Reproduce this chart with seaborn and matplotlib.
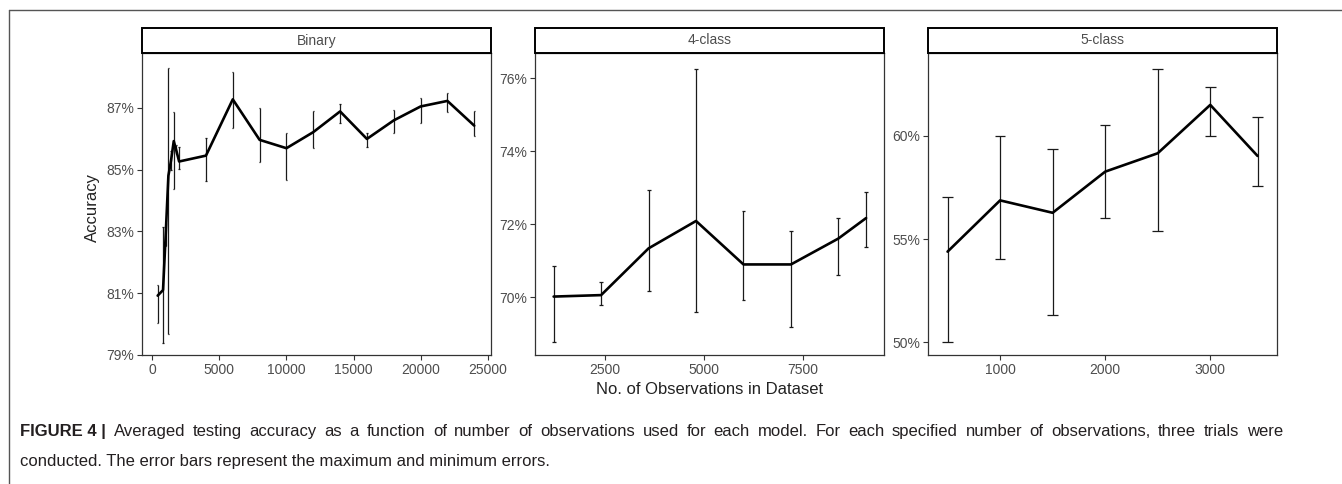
import numpy as np
import pandas as pd
import matplotlib
matplotlib.use("Agg")
import matplotlib.pyplot as plt
from matplotlib.patches import Rectangle
from matplotlib.lines import Line2D
from matplotlib.ticker import FuncFormatter, FixedLocator
import seaborn as sns

# ---------------- data ----------------
binary_n = [400, 800, 1000, 1200, 1400, 1600, 1800, 2000, 4000, 6000, 8000,
            10000, 12000, 14000, 16000, 18000, 20000, 22000, 24000]
binary_mean = [80.92, 81.10, 82.90, 84.80, 85.30, 85.92, 85.60, 85.26, 85.45, 87.27, 85.96,
               85.69, 86.21, 86.88, 85.99, 86.59, 87.04, 87.22, 86.42]
binary_lo = [80.05, 79.38, 82.52, 79.68, 85.00, 84.37, 85.50, 85.02, 84.64, 86.34, 85.25,
             84.67, 85.70, 86.51, 85.74, 86.18, 86.51, 86.86, 86.10]
binary_hi = [81.28, 83.15, 83.28, 88.30, 85.60, 86.86, 85.80, 85.74, 86.01, 88.16, 87.00,
             86.18, 86.89, 87.11, 86.18, 86.91, 87.33, 87.49, 86.88]

class4_n = [1200, 2400, 3600, 4800, 6000, 7200, 8400, 9100]
class4_mean = [70.02, 70.06, 71.34, 72.09, 70.90, 70.90, 71.61, 72.17]
class4_lo = [68.77, 69.79, 70.17, 69.61, 69.93, 69.18, 70.61, 71.39]
class4_hi = [70.86, 70.42, 72.95, 76.25, 72.36, 71.82, 72.17, 72.88]

class5_n = [500, 1000, 1500, 2000, 2500, 3000, 3450]
class5_mean = [54.39, 56.87, 56.27, 58.26, 59.15, 61.49, 59.02]
class5_lo = [50.00, 54.03, 51.33, 56.00, 55.40, 60.00, 57.56]
class5_hi = [57.05, 60.00, 59.37, 60.52, 63.23, 62.37, 60.90]

panel_titles = ["Binary", "4-class", "5-class"]
binary_yticks = [79, 81, 83, 85, 87]
class4_yticks = [70, 72, 74, 76]
class5_yticks = [50, 55, 60]
binary_xticks = [0, 5000, 10000, 15000, 20000, 25000]
class4_xticks = [2500, 5000, 7500]
class5_xticks = [1000, 2000, 3000]

y_label = "Accuracy"
x_label = "No. of Observations in Dataset"
caption_bold = "FIGURE 4 |"
caption_line1 = ("Averaged testing accuracy as a function of number of observations used for each model. "
                 "For each specified number of observations, three trials were")
caption_line2 = "conducted. The error bars represent the maximum and minimum errors."

# ---------------- style ----------------
sns.set_theme(style="white")
plt.rcParams['font.family'] = ['Liberation Sans', 'DejaVu Sans']

W, H = 1342, 484
fig = plt.figure(figsize=(W / 100, H / 100), dpi=100)

panels = [
    (binary_n, binary_mean, binary_lo, binary_hi, binary_xticks, binary_yticks,
     (-790, 25250), (79.0, 88.77), 141.7),
    (class4_n, class4_mean, class4_lo, class4_hi, class4_xticks, class4_yticks,
     (729, 9560), (68.42, 76.69), 535.0),
    (class5_n, class5_mean, class5_lo, class5_hi, class5_xticks, class5_yticks,
     (311, 3635), (49.39, 64.0), 927.7),
]

ax_w = 349.3 / W
ax_b = 1 - 355 / H
ax_h = (355 - 53) / H
strip_h_ax = 25 / (355 - 53)
cap_half = 50  # data units

tick_col = "#4D4D4D"
for (xs, m, lo, hi, xt, yt, xl, yl, left_px), title in zip(panels, panel_titles):
    ax = fig.add_axes([left_px / W, ax_b, ax_w, ax_h])
    df = pd.DataFrame({"n": xs, "acc": m})
    ax.vlines(xs, lo, hi, color="#1a1a1a", lw=0.9, zorder=2)
    ax.hlines(lo, np.array(xs) - cap_half, np.array(xs) + cap_half, color="#1a1a1a", lw=0.9, zorder=2)
    ax.hlines(hi, np.array(xs) - cap_half, np.array(xs) + cap_half, color="#1a1a1a", lw=0.9, zorder=2)
    sns.lineplot(data=df, x="n", y="acc", ax=ax, color="black", lw=1.9, zorder=3,
                 estimator=None, sort=False)
    ax.set_xlim(*xl)
    ax.set_ylim(*yl)
    ax.xaxis.set_major_locator(FixedLocator(xt))
    ax.yaxis.set_major_locator(FixedLocator(yt))
    ax.yaxis.set_major_formatter(FuncFormatter(lambda v, p: f"{v:.0f}%"))
    ax.xaxis.set_major_formatter(FuncFormatter(lambda v, p: f"{v:.0f}"))
    ax.set_xlabel("")
    ax.set_ylabel("")
    ax.tick_params(axis="both", which="major", direction="out", length=3.5, width=0.8,
                   color="#333333", labelcolor=tick_col, labelsize=10, pad=2,
                   bottom=True, left=True)
    for s in ax.spines.values():
        s.set_visible(True)
        s.set_color("#333333")
        s.set_linewidth(0.9)
    ax.set_facecolor("white")
    strip = Rectangle((0, 1), 1, strip_h_ax, transform=ax.transAxes, clip_on=False,
                      facecolor="white", edgecolor="black", lw=1.4, zorder=5)
    ax.add_patch(strip)
    ax.text(0.5, 1 + strip_h_ax / 2, title, transform=ax.transAxes, ha="center", va="center",
            fontsize=10, color=tick_col, zorder=6)

fig.text(92 / W, 1 - 207 / H, y_label, rotation=90, ha="center", va="center",
         fontsize=12, color="#222222")
fig.text(710 / W, 1 - 390 / H, x_label, ha="center", va="center",
         fontsize=12, color="#222222")

# caption (first line justified to the caption width, last line left aligned)
cap_size = 12
cap_col = "#231F20"
renderer = fig.canvas.get_renderer()
base1 = 1 - 436 / H
base2 = 1 - 466 / H
tokens = [(caption_bold, "bold")] + [(w, "normal") for w in caption_line1.split(" ")]
arts = []
for tok, wt in tokens:
    t = fig.text(0, base1, tok, ha="left", va="baseline", fontsize=cap_size,
                 fontweight=wt, color=cap_col)
    arts.append(t)
widths = [a.get_window_extent(renderer).width for a in arts]
x_start, x_end = 20.0, 1283.0
gap = (x_end - x_start - sum(widths)) / (len(arts) - 1)
xpos = x_start
for a, w in zip(arts, widths):
    a.set_x(xpos / W)
    xpos += w + gap
fig.text(20 / W, base2, caption_line2, ha="left", va="baseline", fontsize=cap_size,
         color=cap_col)

# figure frame (top and left)
fig.add_artist(Line2D([9 / W, 1], [1 - 10 / H, 1 - 10 / H], transform=fig.transFigure,
                      color="#555555", lw=1.0))
fig.add_artist(Line2D([9 / W, 9 / W], [0, 1 - 10 / H], transform=fig.transFigure,
                      color="#555555", lw=1.0))

fig.savefig("out.png", dpi=100, facecolor="white")
